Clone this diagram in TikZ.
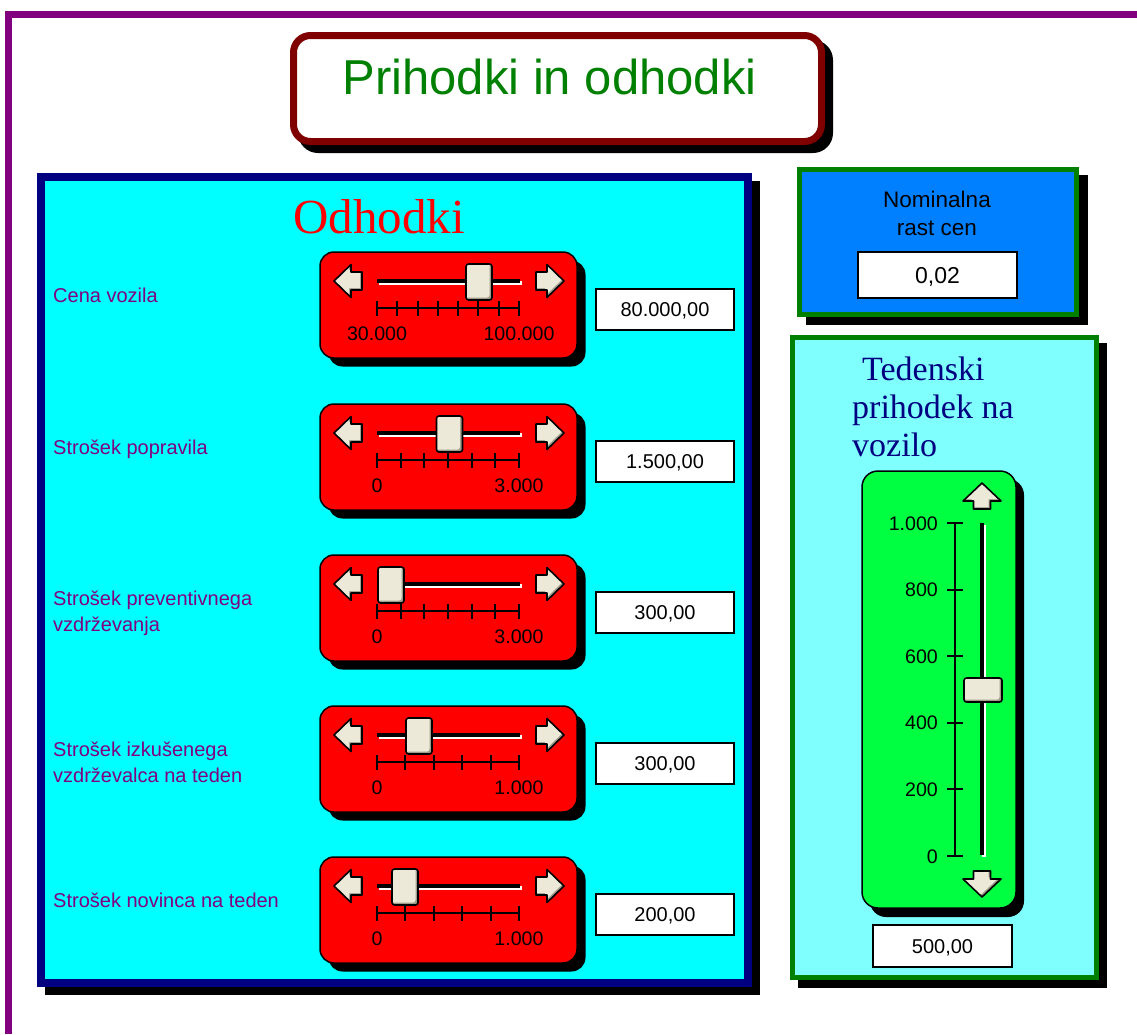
\documentclass[tikz,border=0pt]{standalone}
\usepackage{fontspec}
\setmainfont{Liberation Sans}
\newfontfamily\serifface{Liberation Serif}

\definecolor{framepurple}{RGB}{128,0,128}
\definecolor{titlered}{RGB}{128,0,0}
\definecolor{titlegreen}{RGB}{0,128,0}
\definecolor{panelnavy}{RGB}{0,0,128}
\definecolor{panelcyan}{RGB}{0,255,255}
\definecolor{sliderred}{RGB}{255,0,0}
\definecolor{knob}{RGB}{236,233,216}
\definecolor{knobdark}{RGB}{160,156,140}
\definecolor{nomblue}{RGB}{0,128,255}
\definecolor{lightcyan}{RGB}{128,255,255}
\definecolor{panelgreen}{RGB}{0,128,0}
\definecolor{slidergreen}{RGB}{0,255,64}
\definecolor{labelpurple}{RGB}{128,0,128}

% beige control with a darker bevel on its lower-right edges
\newcommand\bevelshape[2]{%
  \begin{scope}
    \clip #2;
    \fill[knobdark] #2;
    \fill[knob, xshift=-#1pt, yshift=#1pt] #2;
  \end{scope}
  \draw[black, line width=1.6pt, line join=round] #2;}

\tikzset{
  larrow/.pic={\bevelshape{1.8}{(-14,0) -- (3,-16.5) -- (3,-9) -- (14,-9) -- (14,9) -- (3,9) -- (3,16.5) -- cycle}},
  rarrow/.pic={\bevelshape{1.8}{(14,0) -- (-3,-16.5) -- (-3,-9) -- (-14,-9) -- (-14,9) -- (-3,9) -- (-3,16.5) -- cycle}},
  uarrow/.pic={\bevelshape{1.8}{(0,-13) -- (19,5) -- (8.5,5) -- (8.5,13) -- (-8.5,13) -- (-8.5,5) -- (-19,5) -- cycle}},
  darrow/.pic={\bevelshape{1.8}{(0,13) -- (19,-5) -- (8.5,-5) -- (8.5,-13) -- (-8.5,-13) -- (-8.5,-5) -- (-19,-5) -- cycle}},
  hthumb/.pic={\bevelshape{2.5}{[rounded corners=2.5pt] (-13,-18) rectangle (13,18)}},
  vthumb/.pic={\bevelshape{2.5}{[rounded corners=2.5pt] (-19,-12) rectangle (19,12)}},
  lab/.style={inner sep=0pt, text=labelpurple, font=\fontsize{20}{26}\selectfont, anchor=base west},
  ticklab/.style={inner sep=0pt, font=\fontsize{19.6}{24}\selectfont},
  valbox/.style={draw=black, line width=1.6pt, fill=white, inner sep=0pt,
    minimum width=138pt, minimum height=41.5pt, text height=14.3pt, text depth=0pt,
    font=\fontsize{20}{24}\selectfont},
  tickline/.style={black, line width=1.9pt},
}

\begin{document}
\begin{tikzpicture}[x=1pt,y=-1pt]
\useasboundingbox (0,0) rectangle (1137,1034);
\fill[white] (0,0) rectangle (1137,1034);

% outer frame (top and left edges)
\draw[framepurple, line width=7pt] (8.5,1034) -- (8.5,14.5) -- (1137,14.5);

% title box
\fill[black, rounded corners=20pt] (298,40) rectangle (833,153);
\draw[titlered, fill=white, line width=7pt, rounded corners=17pt] (293.5,35.5) rectangle (821.5,141.5);
\node[inner sep=0pt, anchor=base, text=titlegreen, font=\fontsize{49}{55}\selectfont] (title) at (549.5,94) {Prihodki in odhodki};

% expenses panel
\fill[black] (45,181) rectangle (760,995);
\draw[panelnavy, fill=panelcyan, line width=8pt] (41,177) rectangle (748,983);
\node[inner sep=0pt, anchor=base, text=sliderred, font=\serifface\fontsize{49}{55}\selectfont] (odhodki) at (379,233) {Odhodki};

% price growth panel
\fill[black] (806,175) rectangle (1088,325);
\draw[panelgreen, fill=nomblue, line width=5pt] (799.5,169.5) rectangle (1076.5,314.5);
\node[inner sep=0pt, anchor=base, font=\fontsize{22.5}{28}\selectfont] (nom1) at (937,207) {Nominalna};
\node[inner sep=0pt, anchor=base, font=\fontsize{22.5}{28}\selectfont] (nom2) at (937,235) {rast cen};
\node[valbox, minimum width=159pt, minimum height=46pt, text height=16.5pt, font=\fontsize{23}{28}\selectfont] (nomval) at (937.5,275) {0,02};

% weekly income panel
\fill[black] (798,343) rectangle (1107,988);
\draw[panelgreen, fill=lightcyan, line width=5pt] (792.5,337.5) rectangle (1096.5,977.5);
\node[inner sep=0pt, anchor=base west, text=panelnavy, font=\serifface\fontsize{34}{38}\selectfont] (ted1) at (862,380) {Tedenski};
\node[inner sep=0pt, anchor=base west, text=panelnavy, font=\serifface\fontsize{34}{38}\selectfont] (ted2) at (852,418) {prihodek na};
\node[inner sep=0pt, anchor=base west, text=panelnavy, font=\serifface\fontsize{34}{38}\selectfont] (ted3) at (852,456) {vozilo};

% vertical slider
\fill[black, rounded corners=16pt] (870,479) rectangle (1024,917);
\draw[black, fill=slidergreen, line width=1.5pt, rounded corners=16pt] (862,471) rectangle (1016,908);
\draw[tickline] (955,523) -- (955,856);
\foreach \v/\lab [count=\i] in {0/0,1/200,2/400,3/600,4/800,5/{1.000}}{
  \draw[tickline] (947,856-66.6*\v) -- (963,856-66.6*\v);
  \node[ticklab, anchor=base east] (vt\i) at (938,863-66.6*\v) {\lab};
}
\fill[white] (981.5,525) rectangle (985.5,857);
\fill[black] (979.5,523) rectangle (983.5,855);
\pic at (983,690) {vthumb};
\pic at (982,496) {uarrow};
\pic at (982,884) {darrow};
\node[valbox, minimum width=139pt, minimum height=42pt] (incval) at (942.5,946) {500,00};

% horizontal sliders
\foreach \T/\tx/\n/\lo/\hi/\val/\la/\lb [count=\r] in {
  252/479/7/30.000/100.000/{80.000,00}/{Cena vozila}/{},
  404/449.5/6/0/3.000/{1.500,00}/{Strošek popravila}/{},
  555/391/6/0/3.000/{300,00}/{Strošek preventivnega}/{vzdrževanja},
  706/419/5/0/1.000/{300,00}/{Strošek izkušenega}/{vzdrževalca na teden},
  857/405/5/0/1.000/{200,00}/{Strošek novinca na teden}/{}}{
  \node[lab] (laba\r) at (53,\T+50) {\la};
  \node[lab] (labb\r) at (53,\T+76) {\lb};
  \fill[black, rounded corners=14pt] (328.5,\T+8.5) rectangle (585.5,\T+114.5);
  \draw[black, fill=sliderred, line width=1.5pt, rounded corners=14pt] (320,\T) rectangle (577,\T+106);
  \draw[tickline] (377,\T+56) -- (519,\T+56);
  \foreach \k in {0,...,\n}{
    \draw[tickline] ({377+142*\k/\n},\T+48.5) -- ({377+142*\k/\n},\T+63.5);
  }
  \node[ticklab, anchor=base] (lo\r) at (377,\T+88) {\lo};
  \node[ticklab, anchor=base] (hi\r) at (519,\T+88) {\hi};
  \fill[white] (379,\T+28.5) rectangle (522,\T+32.5);
  \fill[black] (377,\T+26.5) rectangle (520,\T+30.5);
  \pic at (\tx,\T+30) {hthumb};
  \pic at (348,\T+29) {larrow};
  \pic at (550,\T+29) {rarrow};
  \node[valbox] (val\r) at (665,\T+57.5) {\val};
}
\end{tikzpicture}
\end{document}
